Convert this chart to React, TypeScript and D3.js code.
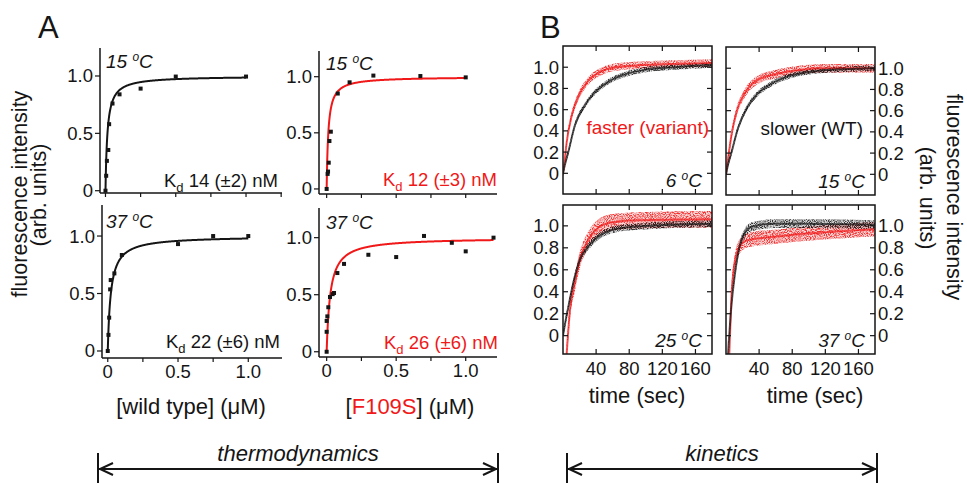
import React from 'react';
import * as d3 from 'd3';

const FONT = "'Liberation Sans', Arial, Helvetica, sans-serif";
const RED = '#f01818';
const INK = '#151515';

// ---------- Panel A: binding titrations ----------
const wt15X = [0, 0.005, 0.01, 0.02, 0.026, 0.05, 0.1, 0.25, 0.5, 1.0];
const wt15Y = [0, 0.13, 0.26, 0.355, 0.58, 0.76, 0.84, 0.89, 0.995, 0.995];
const wt15Kd = 0.014;

const mut15X = [0, 0.007, 0.01, 0.015, 0.02, 0.03, 0.08, 0.165, 0.336, 0.674, 1.0];
const mut15Y = [0, 0.134, 0.155, 0.234, 0.427, 0.51, 0.85, 0.95, 1.01, 1.006, 0.994];
const mut15Kd = 0.012;

const wt37X = [0, 0.005, 0.01, 0.017, 0.021, 0.047, 0.1, 0.5, 0.75, 1.0];
const wt37Y = [0, 0.14, 0.29, 0.536, 0.617, 0.675, 0.835, 0.93, 1.0, 1.0];
const wt37Kd = 0.022;

const mut37X = [0, 0, 0, 0.005, 0.012, 0.024, 0.043, 0.053, 0.077, 0.125, 0.3, 0.5, 0.7, 0.9, 1.0, 1.2];
const mut37Y = [0, 0.175, 0.27, 0.31, 0.39, 0.48, 0.505, 0.515, 0.69, 0.77, 0.85, 0.83, 1.015, 0.955, 0.88, 1.0];
const mut37Kd = 0.026;

const aYTicks = [0, 0.5, 1.0];
const aXTicks = [0, 0.5, 1.0];
const aXMinor = [0, 0.25, 0.5, 0.75, 1.0, 1.25];

// ---------- Panel B: kinetics ----------
const k6BlackT = [0, 2, 6.4, 14.3, 26.3, 38.2, 54, 74, 98, 134, 180];
const k6BlackV = [0, 0.07, 0.2, 0.45, 0.64, 0.76, 0.86, 0.93, 0.975, 1.0, 1.02];
const k6RedT = [0, 2, 4.4, 10.4, 18.3, 30.3, 46, 62, 94, 134, 180];
const k6RedV = [0, 0.12, 0.29, 0.54, 0.72, 0.87, 0.96, 1.0, 1.02, 1.03, 1.04];

const k15BlackT = [0, 2.4, 6.4, 14.3, 26.3, 38.2, 54, 78, 110, 141, 180];
const k15BlackV = [0, 0.09, 0.2, 0.43, 0.64, 0.76, 0.85, 0.93, 0.975, 0.99, 1.0];
const k15RedT = [0, 2.4, 6.4, 12.4, 22.3, 38, 58, 86, 118, 180];
const k15RedV = [0, 0.14, 0.36, 0.58, 0.76, 0.89, 0.94, 0.98, 1.0, 1.0];

const k25BlackT = [0, 3, 6.4, 12.4, 20.3, 30.3, 42, 58, 82, 180];
const k25BlackV = [0, 0.13, 0.26, 0.48, 0.69, 0.81, 0.9, 0.96, 0.99, 1.02];
const k25RedT = [4.4, 8.4, 14.3, 20.3, 30.3, 42, 58, 90, 180];
const k25RedV = [-0.17, 0.23, 0.48, 0.69, 0.87, 0.98, 1.03, 1.05, 1.06];

const k37BlackT = [2.4, 6.4, 10.4, 16.3, 22.3, 30.3, 58, 98, 180];
const k37BlackV = [-0.17, 0.26, 0.54, 0.81, 0.93, 0.99, 1.02, 1.02, 1.01];
const k37RedT = [4, 6.4, 10.4, 16.3, 26.3, 58, 98, 138, 180];
const k37RedV = [-0.17, 0.33, 0.66, 0.81, 0.87, 0.9, 0.93, 0.95, 0.97];

const bYTicks = [0, 0.2, 0.4, 0.6, 0.8, 1.0];
const bXTicks = [40, 80, 120, 160];

const fmt = (v: number) => (v === 0 ? '0' : v.toFixed(1));

function TempLabel({ x, y, num, anchor }: { x: number; y: number; num: string; anchor: string }) {
  return (
    <text x={x} y={y} fontSize={19} fontStyle="italic" textAnchor={anchor} fill={INK}>
      {num + ' '}
      <tspan fontSize={12} dy={-7}>o</tspan>
      <tspan dy={7}>C</tspan>
    </text>
  );
}

type APanelProps = {
  left: number; right: number; top: number; bottom: number;
  xDom: [number, number]; yDom: [number, number];
  xs: number[]; ys: number[]; kd: number; curveColor: string;
  temp: string; tempX: number; tempY: number;
  kdText: string; kdX: number; kdY: number; kdColor: string;
  xLabels: boolean;
};

function APanel(p: APanelProps) {
  const x = d3.scaleLinear().domain(p.xDom).range([p.left, p.right]);
  const y = d3.scaleLinear().domain(p.yDom).range([p.bottom, p.top]);
  const xmax = d3.max(p.xs) as number;
  const fitXs = d3.range(0, xmax + 1e-9, 0.002);
  const line = d3
    .line<number>()
    .x((d) => x(d))
    .y((d) => y(d / (p.kd + d)));
  return (
    <g>
      <line x1={p.left} x2={p.left} y1={p.top} y2={p.bottom} stroke={INK} strokeWidth={1.5} />
      <line x1={p.left} x2={p.right} y1={p.bottom} y2={p.bottom} stroke={INK} strokeWidth={1.5} />
      {aYTicks.map((t) => (
        <g key={'y' + t}>
          <line x1={p.left - 5} x2={p.left} y1={y(t)} y2={y(t)} stroke={INK} strokeWidth={1.2} />
          <text x={p.left - 7} y={y(t)} dy="0.35em" textAnchor="end" fontSize={18.5} fill={INK}>
            {fmt(t)}
          </text>
        </g>
      ))}
      {aXMinor
        .filter((t) => x(t) <= p.right + 0.5)
        .map((t) => (
          <line key={'xm' + t} x1={x(t)} x2={x(t)} y1={p.bottom} y2={p.bottom + 4} stroke={INK} strokeWidth={1.2} />
        ))}
      {p.xLabels &&
        aXTicks.map((t) => (
          <text key={'xl' + t} x={x(t)} y={p.bottom + 20} textAnchor="middle" fontSize={18.5} fill={INK}>
            {fmt(t)}
          </text>
        ))}
      <path d={line(fitXs) || ''} fill="none" stroke={p.curveColor} strokeWidth={2} />
      {p.xs.map((xv, i) => (
        <rect key={'pt' + i} x={x(xv) - 2} y={y(p.ys[i]) - 2} width={4} height={4} fill={INK} />
      ))}
      <TempLabel x={p.tempX} y={p.tempY} num={p.temp} anchor="start" />
      <text x={p.kdX} y={p.kdY} textAnchor="end" fontSize={18.5} fill={p.kdColor}>
        K
        <tspan fontSize={13} dy={5}>d</tspan>
        <tspan dy={-5}>{' ' + p.kdText}</tspan>
      </text>
    </g>
  );
}

type Trace = { t: number[]; v: number[]; spread: number; color: string };

type BPanelProps = {
  id: string;
  left: number; right: number; top: number; bottom: number;
  yDom: [number, number];
  traces: Trace[];
  temp: string;
  leftLabels: boolean; rightLabels: boolean; xLabels: boolean;
};

function BPanel(p: BPanelProps) {
  const x = d3.scaleLinear().domain([0, 180]).range([p.left, p.right]);
  const y = d3.scaleLinear().domain(p.yDom).range([p.bottom, p.top]);
  const area = d3.area<number>().curve(d3.curveMonotoneX);
  const line = d3.line<number>().curve(d3.curveMonotoneX);
  const tk = 5;
  return (
    <g>
      <defs>
        <clipPath id={p.id}>
          <rect x={p.left} y={p.top} width={p.right - p.left} height={p.bottom - p.top} />
        </clipPath>
      </defs>
      <g clipPath={`url(#${p.id})`}>
        {p.traces.map((tr, i) => {
          const a = area
            .x((_, j) => x(tr.t[j]))
            .y0((_, j) => y(tr.v[j] - tr.spread))
            .y1((_, j) => y(tr.v[j] + tr.spread));
          const d = a(tr.v) || '';
          return (
            <g key={'a' + i}>
              <path d={d} fill={tr.color} fillOpacity={0.18} stroke="none" />
              <path d={d} fill={tr.color} fillOpacity={0.85} stroke="none" filter="url(#speckle)" />
            </g>
          );
        })}
        {p.traces.map((tr, i) => {
          const l = line.x((_, j) => x(tr.t[j])).y((d) => y(d));
          return (
            <path key={'l' + i} d={l(tr.v) || ''} fill="none" stroke={tr.color} strokeOpacity={0.7} strokeWidth={2} />
          );
        })}
      </g>
      <rect x={p.left} y={p.top} width={p.right - p.left} height={p.bottom - p.top} fill="none" stroke={INK} strokeWidth={1.5} />
      {bYTicks.map((t) => (
        <g key={'y' + t}>
          <line x1={p.left} x2={p.left + tk} y1={y(t)} y2={y(t)} stroke={INK} strokeWidth={1.2} />
          <line x1={p.right - tk} x2={p.right} y1={y(t)} y2={y(t)} stroke={INK} strokeWidth={1.2} />
          {p.leftLabels && (
            <text x={p.left - 4} y={y(t)} dy="0.35em" textAnchor="end" fontSize={18.5} fill={INK}>
              {fmt(t)}
            </text>
          )}
          {p.rightLabels && (
            <text x={p.right + 3} y={y(t)} dy="0.35em" textAnchor="start" fontSize={18.5} fill={INK}>
              {fmt(t)}
            </text>
          )}
        </g>
      ))}
      {bXTicks.map((t) => (
        <g key={'x' + t}>
          <line x1={x(t)} x2={x(t)} y1={p.top} y2={p.top + tk} stroke={INK} strokeWidth={1.2} />
          <line x1={x(t)} x2={x(t)} y1={p.bottom - tk} y2={p.bottom} stroke={INK} strokeWidth={1.2} />
          {p.xLabels && (
            <text x={x(t)} y={p.bottom + 21} textAnchor="middle" fontSize={18.5} fill={INK}>
              {t}
            </text>
          )}
        </g>
      ))}
      <TempLabel x={p.right - 10} y={p.bottom - 7} num={p.temp} anchor="end" />
    </g>
  );
}

function RangeArrow({ x1, x2, y, label }: { x1: number; x2: number; y: number; label: string }) {
  return (
    <g stroke={INK} strokeWidth={2} fill="none">
      <line x1={x1} x2={x2} y1={y} y2={y} />
      <line x1={x1} x2={x1} y1={y - 16} y2={483} />
      <line x1={x2} x2={x2} y1={y - 16} y2={483} />
      <path d={`M${x1 + 15},${y - 6} L${x1 + 2},${y} L${x1 + 15},${y + 6}`} />
      <path d={`M${x2 - 15},${y - 6} L${x2 - 2},${y} L${x2 - 15},${y + 6}`} />
      <text x={(x1 + x2) / 2} y={y - 8} textAnchor="middle" fontSize={22} fontStyle="italic" fill={INK} stroke="none">
        {label}
      </text>
    </g>
  );
}

export default function App() {
  return (
    <svg
      width={967}
      height={483}
      viewBox="0 0 967 483"
      style={{ position: 'absolute', left: 0, top: 0, background: '#fff' }}
      fontFamily={FONT}
    >
      <defs>
        <filter id="speckle" x="-10%" y="-10%" width="120%" height="120%" filterUnits="objectBoundingBox">
          <feTurbulence type="fractalNoise" baseFrequency="0.95" numOctaves={1} seed={7} result="noise" />
          <feColorMatrix
            in="noise"
            type="matrix"
            values="0 0 0 0 0  0 0 0 0 0  0 0 0 0 0  4.5 0 0 0 -1.9"
            result="mask"
          />
          <feComposite in="SourceGraphic" in2="mask" operator="in" />
        </filter>
      </defs>
      <rect x={0} y={0} width={967} height={483} fill="#fff" />
      <text x={38} y={38} fontSize={31} fill={INK}>A</text>
      <text x={540} y={38} fontSize={31} fill={INK}>B</text>

      {/* left y title */}
      <g transform="translate(27,194) rotate(-90)">
        <text x={0} y={0} textAnchor="middle" fontSize={21.5} fill={INK}>fluorescence intensity</text>
      </g>
      <g transform="translate(46,195) rotate(-90)">
        <text x={0} y={0} textAnchor="middle" fontSize={21.5} fill={INK}>(arb. units)</text>
      </g>

      <APanel
        left={100} right={282} top={48} bottom={193}
        xDom={[-0.039, 1.256]} yDom={[-0.02, 1.244]}
        xs={wt15X} ys={wt15Y} kd={wt15Kd} curveColor={INK}
        temp="15" tempX={106} tempY={68}
        kdText="14 (±2) nM" kdX={278} kdY={187} kdColor={INK}
        xLabels={false}
      />
      <APanel
        left={319} right={497} top={51} bottom={194}
        xDom={[-0.055, 1.225]} yDom={[-0.045, 1.229]}
        xs={mut15X} ys={mut15Y} kd={mut15Kd} curveColor={RED}
        temp="15" tempX={326} tempY={70}
        kdText="12 (±3) nM" kdX={497} kdY={186} kdColor={RED}
        xLabels={false}
      />
      <APanel
        left={102} right={282} top={205} bottom={358}
        xDom={[-0.041, 1.24]} yDom={[-0.061, 1.27]}
        xs={wt37X} ys={wt37Y} kd={wt37Kd} curveColor={INK}
        temp="37" tempX={106} tempY={228}
        kdText="22 (±6) nM" kdX={280} kdY={348} kdColor={INK}
        xLabels={true}
      />
      <APanel
        left={319} right={497} top={208} bottom={357}
        xDom={[-0.055, 1.225]} yDom={[-0.046, 1.26]}
        xs={mut37X} ys={mut37Y} kd={mut37Kd} curveColor={RED}
        temp="37" tempX={326} tempY={229}
        kdText="26 (±6) nM" kdX={498} kdY={349} kdColor={RED}
        xLabels={true}
      />

      <text x={191} y={414} textAnchor="middle" fontSize={22} fill={INK}>[wild type] (μM)</text>
      <text x={410} y={414} textAnchor="middle" fontSize={22} fill={INK}>
        [<tspan fill={RED}>F109S</tspan>] (μM)
      </text>

      <BPanel
        id="c6" left={563} right={712} top={46} bottom={194} yDom={[-0.195, 1.2]}
        traces={[
          { t: k6RedT, v: k6RedV, spread: 0.035, color: RED },
          { t: k6BlackT, v: k6BlackV, spread: 0.025, color: INK },
        ]}
        temp="6" leftLabels={true} rightLabels={false} xLabels={false}
      />
      <BPanel
        id="c15" left={726} right={875} top={47} bottom={195} yDom={[-0.195, 1.2]}
        traces={[
          { t: k15RedT, v: k15RedV, spread: 0.04, color: RED },
          { t: k15BlackT, v: k15BlackV, spread: 0.025, color: INK },
        ]}
        temp="15" leftLabels={false} rightLabels={true} xLabels={false}
      />
      <BPanel
        id="c25" left={563} right={712} top={205} bottom={354} yDom={[-0.167, 1.19]}
        traces={[
          { t: k25RedT, v: k25RedV, spread: 0.075, color: RED },
          { t: k25BlackT, v: k25BlackV, spread: 0.03, color: INK },
        ]}
        temp="25" leftLabels={true} rightLabels={false} xLabels={true}
      />
      <BPanel
        id="c37" left={726} right={875} top={205} bottom={354} yDom={[-0.167, 1.19]}
        traces={[
          { t: k37RedT, v: k37RedV, spread: 0.065, color: RED },
          { t: k37BlackT, v: k37BlackV, spread: 0.04, color: INK },
        ]}
        temp="37" leftLabels={false} rightLabels={true} xLabels={true}
      />

      <text x={709} y={134} textAnchor="end" fontSize={19} fill={RED}>faster (variant)</text>
      <text x={863} y={135} textAnchor="end" fontSize={19} fill={INK}>slower (WT)</text>

      <text x={637} y={403} textAnchor="middle" fontSize={22} fill={INK}>time (sec)</text>
      <text x={815} y={403} textAnchor="middle" fontSize={22} fill={INK}>time (sec)</text>

      {/* right y title */}
      <g transform="translate(947,197) rotate(90)">
        <text x={0} y={0} textAnchor="middle" fontSize={21.5} fill={INK}>fluorescence intensity</text>
      </g>
      <g transform="translate(920,198) rotate(90)">
        <text x={0} y={0} textAnchor="middle" fontSize={21.5} fill={INK}>(arb. units)</text>
      </g>

      <RangeArrow x1={98} x2={498} y={469} label="thermodynamics" />
      <RangeArrow x1={567} x2={877} y={469} label="kinetics" />
    </svg>
  );
}
